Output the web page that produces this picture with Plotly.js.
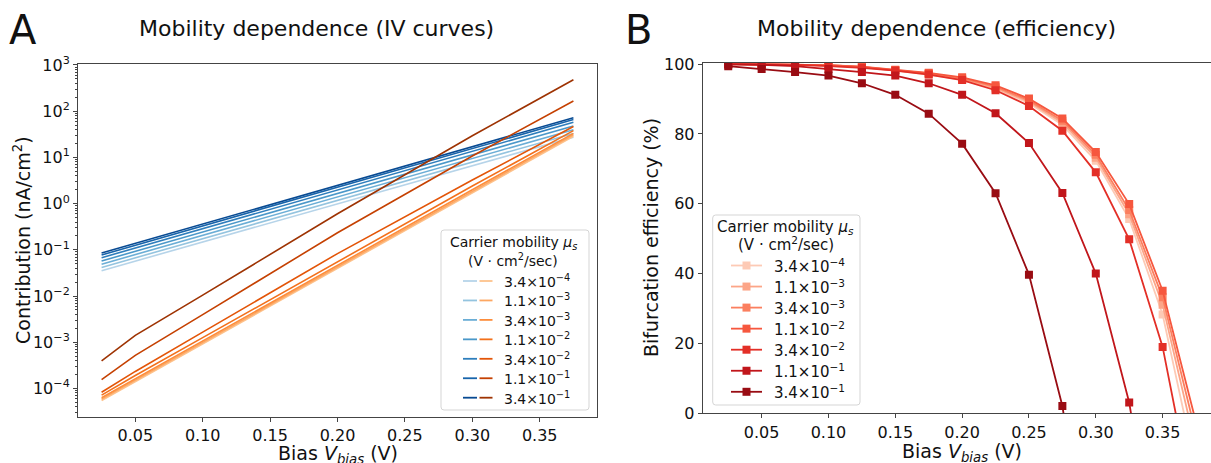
<!DOCTYPE html>
<html>
<head>
<meta charset="utf-8">
<script src="https://cdn.plot.ly/plotly-3.0.1.min.js"></script>
<style>html,body{margin:0;padding:0;overflow:hidden;background:#fff}</style>
</head>
<body>
<div id="chart" style="width:1211px;height:463px"></div>
<script>
// ---------------- data ----------------
const mobilityLabels = ['3.4×10<sup>−4</sup>', '1.1×10<sup>−3</sup>', '3.4×10<sup>−3</sup>',
  '1.1×10<sup>−2</sup>', '3.4×10<sup>−2</sup>', '1.1×10<sup>−1</sup>', '3.4×10<sup>−1</sup>'];

// Panel A: IV curves (nA/cm^2)
const ivBiasBlue = [0.025, 0.2, 0.375];
const ivBlue = [
  [0.0355, 0.99, 27.5],
  [0.0417, 1.16, 33.1],
  [0.049, 1.38, 39.8],
  [0.0575, 1.66, 47.9],
  [0.0676, 1.97, 57.5],
  [0.0776, 2.25, 66.1],
  [0.0851, 2.48, 72.4]
];
const ivBiasOrange = [0.025, 0.05, 0.1, 0.2, 0.3, 0.375];
const ivOrange = [
  [5.5e-5, 1.41e-4, 9.3e-4, 0.0398, 1.70, 28.8],
  [5.9e-5, 1.51e-4, 1.0e-3, 0.0427, 1.82, 30.9],
  [6.3e-5, 1.62e-4, 1.07e-3, 0.0457, 2.0, 33.1],
  [7.2e-5, 1.91e-4, 1.26e-3, 0.055, 2.4, 38.0],
  [8.3e-5, 2.34e-4, 1.66e-3, 0.083, 3.24, 46.8],
  [1.55e-4, 5.2e-4, 3.98e-3, 0.234, 10.7, 166],
  [3.98e-4, 1.41e-3, 1.05e-2, 0.603, 29.5, 479]
];

// Panel B: bifurcation efficiency (%)
const effBias = [0.025, 0.05, 0.075, 0.1, 0.125, 0.15, 0.175, 0.2, 0.225, 0.25, 0.275, 0.3, 0.325, 0.35, 0.375];
const efficiency = [
  [100, 99.95, 99.85, 99.6, 99.1, 98.1, 97.0, 95.5, 92.9, 88.8, 82.6, 72.3, 55.6, 28.3, -16],
  [100, 99.95, 99.85, 99.65, 99.15, 98.2, 97.2, 95.7, 93.2, 89.2, 83.2, 73.2, 57.0, 31.1, -10],
  [100, 99.95, 99.85, 99.65, 99.2, 98.3, 97.3, 95.9, 93.5, 89.6, 83.8, 74.0, 58.2, 33.2, -6],
  [100, 99.95, 99.9, 99.7, 99.25, 98.4, 97.5, 96.2, 93.9, 90.1, 84.4, 74.8, 59.9, 35.1, -2.6],
  [99.95, 99.9, 99.8, 99.4, 98.9, 98.1, 97.0, 95.4, 92.5, 88.0, 80.9, 69.0, 49.8, 19.0, -29.5],
  [99.9, 99.8, 99.4, 98.6, 97.7, 96.7, 94.5, 91.2, 85.9, 77.4, 63.1, 40.0, 3.1, -55, null],
  [99.4, 98.6, 97.7, 96.7, 94.5, 91.2, 85.8, 77.2, 63.0, 39.7, 2.1, -60, null, null, null]
];

const xTickValsA = [0.05, 0.10, 0.15, 0.20, 0.25, 0.30, 0.35];
const yTickValsA = [1e-4, 1e-3, 1e-2, 1e-1, 1e0, 1e1, 1e2, 1e3];
const yTickTextA = ['10<sup>−4</sup>', '10<sup>−3</sup>', '10<sup>−2</sup>', '10<sup>−1</sup>',
  '10<sup>0</sup>', '10<sup>1</sup>', '10<sup>2</sup>', '10<sup>3</sup>'];
const yTickValsB = [0, 20, 40, 60, 80, 100];

// ---------------- styles ----------------
const blueColors = ['#b6d4e9', '#94c4df', '#6baed6', '#4a98c9', '#2e7ebc', '#1764ab', '#084a92'];
const orangeColors = ['#fdc28c', '#fda762', '#fd8d3c', '#f3701b', '#e35508', '#c54102', '#9e3303'];
const redColors = ['#fdcab5', '#fca588', '#fb7f5f', '#f6573e', '#e32f27', '#c1161b', '#990c13'];

const W = 1211, H = 463;
const px = p => p / W;
const py = p => 1 - p / H;
const FONT = 'DejaVu Sans, Liberation Sans, sans-serif';
const TXT = '#111';

const traces = [];
ivBlue.forEach((vals, i) => traces.push({
  x: ivBiasBlue, y: vals, xaxis: 'x', yaxis: 'y', mode: 'lines', type: 'scatter',
  line: {color: blueColors[i], width: 1.6}, showlegend: false, hoverinfo: 'skip'
}));
ivOrange.forEach((vals, i) => traces.push({
  x: ivBiasOrange, y: vals, xaxis: 'x', yaxis: 'y', mode: 'lines', type: 'scatter',
  line: {color: orangeColors[i], width: 1.6}, showlegend: false, hoverinfo: 'skip'
}));
efficiency.forEach((vals, i) => traces.push({
  x: effBias, y: vals, xaxis: 'x2', yaxis: 'y2', mode: 'lines+markers', type: 'scatter',
  line: {color: redColors[i], width: 1.8},
  marker: {symbol: 'square', size: 8, color: redColors[i]},
  showlegend: false, hoverinfo: 'skip'
}));

// minor ticks for log axis
const minorA = [];
for (let k = -5; k <= 3; k++) for (let m = 2; m <= 9; m++) minorA.push(m * Math.pow(10, k));

const axisCommon = {
  showgrid: false, zeroline: false, showline: true, linecolor: '#444', linewidth: 1,
  ticks: 'outside', ticklen: 4, tickwidth: 1, tickcolor: '#444',
  tickfont: {family: FONT, size: 16, color: TXT}
};

const shapes = [];
const annotations = [];

function roundRect(x0, y0, x1, y1, r) {
  const rx = r / W, ry = r / H;
  const X0 = px(x0), X1 = px(x1), Y0 = py(y0), Y1 = py(y1);
  return `M ${X0 + rx},${Y0} L ${X1 - rx},${Y0} Q ${X1},${Y0} ${X1},${Y0 - ry} L ${X1},${Y1 + ry} Q ${X1},${Y1} ${X1 - rx},${Y1} L ${X0 + rx},${Y1} Q ${X0},${Y1} ${X0},${Y1 + ry} L ${X0},${Y0 - ry} Q ${X0},${Y0} ${X0 + rx},${Y0} Z`;
}
function ann(text, x, y, size, opts) {
  annotations.push(Object.assign({
    text: text, x: px(x), y: py(y), xref: 'paper', yref: 'paper', showarrow: false,
    xanchor: 'center', yanchor: 'middle', font: {family: FONT, size: size, color: TXT}
  }, opts || {}));
}

// Legend A
shapes.push({type: 'path', path: roundRect(441, 230, 589, 410, 3), xref: 'paper', yref: 'paper',
  line: {color: '#d5d5d5', width: 1}, fillcolor: 'rgba(255,255,255,0.85)'});
ann('Carrier mobility <i>μ<sub>s</sub></i>', 513, 243, 14);
ann('(V · cm<sup>2</sup>/sec)', 513, 260, 14);
mobilityLabels.forEach((lab, i) => {
  const yy = 281 + i * 19.45;
  shapes.push({type: 'line', xref: 'paper', yref: 'paper', x0: px(463), x1: px(477), y0: py(yy), y1: py(yy),
    line: {color: blueColors[i], width: 1.8}});
  shapes.push({type: 'line', xref: 'paper', yref: 'paper', x0: px(479.5), x1: px(492.5), y0: py(yy), y1: py(yy),
    line: {color: orangeColors[i], width: 1.8}});
  ann(lab, 502, yy, 14, {xanchor: 'left'});
});

// Legend B
shapes.push({type: 'path', path: roundRect(712.7, 215, 860, 405, 3), xref: 'paper', yref: 'paper',
  line: {color: '#d5d5d5', width: 1}, fillcolor: 'rgba(255,255,255,0.85)'});
ann('Carrier mobility <i>μ<sub>s</sub></i>', 786, 227, 15);
ann('(V · cm<sup>2</sup>/sec)', 786, 244, 15);
mobilityLabels.forEach((lab, i) => {
  const yy = 265.5 + i * 21.05;
  shapes.push({type: 'line', xref: 'paper', yref: 'paper', x0: px(731), x1: px(762), y0: py(yy), y1: py(yy),
    line: {color: redColors[i], width: 1.8}});
  shapes.push({type: 'rect', xref: 'paper', yref: 'paper', x0: px(742.5), x1: px(750.5), y0: py(yy - 4), y1: py(yy + 4),
    line: {width: 0}, fillcolor: redColors[i]});
  ann(lab, 772, yy, 15, {xanchor: 'left'});
});

// Titles / labels
ann('A', 23, 30, 40);
ann('B', 638, 30, 40);
ann('Mobility dependence (IV curves)', 316, 28, 22);
ann('Mobility dependence (efficiency)', 936, 28, 22);
ann('Bias <i>V<sub>bias</sub></i> (V)', 338, 454, 19);
ann('Bias <i>V<sub>bias</sub></i> (V)', 962, 452, 19);
ann('Contribution (nA/cm<sup>2</sup>)', 22, 240, 19, {textangle: -90});
ann('Bifurcation efficiency (%)', 651, 238, 19, {textangle: -90});

const layout = {
  width: W, height: H, autosize: false,
  margin: {l: 0, r: 0, t: 0, b: 0, pad: 0},
  paper_bgcolor: '#fff', plot_bgcolor: '#fff',
  font: {family: FONT, color: TXT},
  showlegend: false,
  xaxis: Object.assign({}, axisCommon, {
    domain: [px(78), px(597)], range: [0.0075, 0.3925], anchor: 'y', mirror: true,
    tickmode: 'array', tickvals: xTickValsA, ticktext: xTickValsA.map(v => v.toFixed(2))
  }),
  yaxis: Object.assign({}, axisCommon, {
    type: 'log', domain: [py(416.7), py(64.3)], range: [-4.61, 3.015], anchor: 'x', mirror: true,
    tickmode: 'array', tickvals: yTickValsA, ticktext: yTickTextA,
    minor: {tickmode: 'array', tickvals: minorA, ticks: 'outside', ticklen: 2.5, tickwidth: 1, tickcolor: '#444', showgrid: false}
  }),
  xaxis2: Object.assign({}, axisCommon, {
    domain: [px(702.7), 1], range: [0.0059, 0.3862], anchor: 'y2', mirror: true,
    tickmode: 'array', tickvals: xTickValsA, ticktext: xTickValsA.map(v => v.toFixed(2))
  }),
  yaxis2: Object.assign({}, axisCommon, {
    domain: [py(413.3), py(63)], range: [0, 100.3], anchor: 'x2', mirror: false,
    tickmode: 'array', tickvals: yTickValsB, ticktext: yTickValsB.map(String)
  }),
  shapes: shapes,
  annotations: annotations
};

Plotly.newPlot('chart', traces, layout, {displayModeBar: false, staticPlot: true});
</script>
</body>
</html>
